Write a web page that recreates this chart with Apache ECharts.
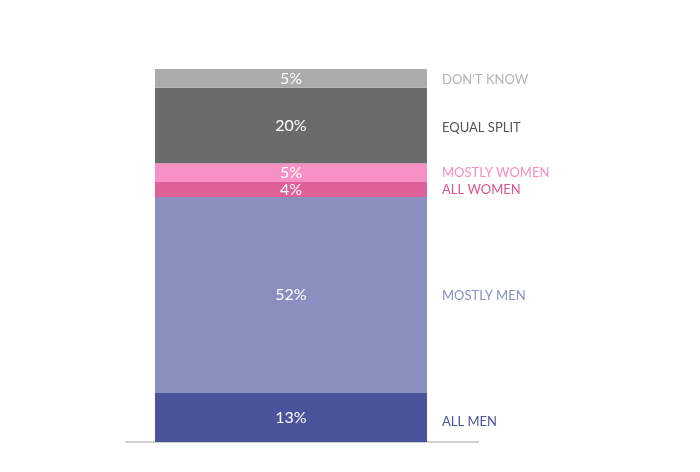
<!DOCTYPE html>
<html><head><meta charset="utf-8">
<script src="https://cdn.jsdelivr.net/npm/echarts@6/dist/echarts.min.js"></script>
<style>html,body{margin:0;padding:0;background:#fff}#c{width:700px;height:472px}</style>
</head><body><div id="c"></div>
<script>
const segmentNames = ['ALL MEN','MOSTLY MEN','ALL WOMEN','MOSTLY WOMEN','EQUAL SPLIT',"DON'T KNOW"];
const segmentValues = [13, 52, 4, 5, 20, 5];
const barColors = ['#4b539c','#8a8fbf','#dd6098','#f790c5','#6b6b6b','#acabab'];
const nameColors = ['#4b539c','#8a8fc0','#d9568f','#f48ec0','#555555','#b3b3b3'];
const nameOffsets = [[10,4],[10,1],[10,0],[10,0],[10,2],[10,1]];

const chart = echarts.init(document.getElementById('c'));
const series = [];
segmentNames.forEach((n,i)=>{
  series.push({
    type:'bar', name:n, stack:'main', xAxisIndex:0, barWidth:'100%',
    data:[segmentValues[i], null],
    itemStyle:{color:barColors[i]},
    label:{show:true, position:'inside', color:'#fff', fontFamily:'Lato', fontSize:16,
      formatter:p=>p.value+'%'},
    silent:true
  });
});
segmentNames.forEach((n,i)=>{
  series.push({
    type:'bar', name:n+'_lab', stack:'lab', xAxisIndex:1, barWidth:'100%',
    data:[null, segmentValues[i]],
    itemStyle:{color:'rgba(0,0,0,0)'},
    label:{show:true, position:'insideLeft', offset:nameOffsets[i], color:nameColors[i],
      fontFamily:'Lato', fontSize:13, formatter:()=>n},
    silent:true
  });
});
chart.setOption({
  animation:false,
  grid:{left:155, width:544, top:69, bottom:30},
  xAxis:[
    {type:'category', data:['bar','labels'], show:false, boundaryGap:true},
    {type:'category', data:['bar','labels'], show:false, boundaryGap:true}
  ],
  yAxis:{type:'value', min:0, max:99, show:false},
  series:series
});
const y0 = chart.convertToPixel({yAxisIndex:0}, 0);
chart.setOption({graphic:[{type:'line', shape:{x1:125,y1:y0,x2:479,y2:y0}, style:{stroke:'#d0d0d0', lineWidth:2}, z:-1}]});
</script></body></html>
